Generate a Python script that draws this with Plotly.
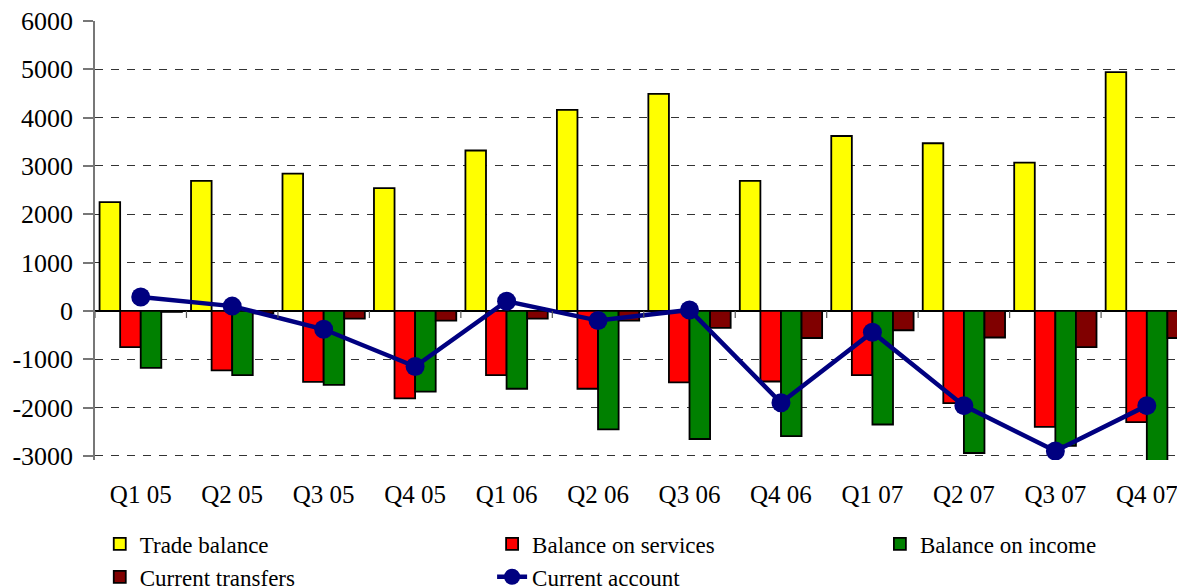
import plotly.graph_objects as go

categories = ["Q1 05", "Q2 05", "Q3 05", "Q4 05", "Q1 06", "Q2 06",
              "Q3 06", "Q4 06", "Q1 07", "Q2 07", "Q3 07", "Q4 07"]
trade_balance = [2250, 2690, 2840, 2540, 3320, 4160, 4490, 2690, 3620, 3470, 3070, 4940]
balance_services = [-750, -1230, -1470, -1810, -1330, -1610, -1480, -1460, -1330, -1910, -2400, -2300]
balance_income = [-1180, -1330, -1530, -1670, -1610, -2450, -2650, -2590, -2350, -2940, -2790, -3200]
current_transfers = [-20, -50, -160, -200, -160, -200, -350, -560, -400, -550, -750, -560]
current_account = [290, 100, -380, -1150, 200, -200, 20, -1900, -440, -1960, -2900, -1960]

y_ticks = [-3000, -2000, -1000, 0, 1000, 2000, 3000, 4000, 5000, 6000]
y_tick_labels = ["-3000", "-2000", "-1000", "0", "1000", "2000", "3000", "4000", "5000", "6000"]

FONT = "Liberation Serif"
xs = list(range(len(categories)))

fig = go.Figure()
bar_specs = [
    ("Trade balance", trade_balance, "#FFFF00", "legend"),
    ("Balance on services", balance_services, "#FF0000", "legend2"),
    ("Balance on income", balance_income, "#008000", "legend3"),
    ("Current transfers", current_transfers, "#800000", "legend"),
]
for name, vals, col, lg in bar_specs:
    fig.add_trace(go.Bar(x=xs, y=vals, name=name, legend=lg,
                         marker=dict(color=col, line=dict(color="black", width=1.8))))

fig.add_trace(go.Scatter(x=xs, y=current_account, name="Current account", mode="lines+markers",
                         legend="legend2",
                         line=dict(color="#000080", width=4.5),
                         marker=dict(color="#000080", size=19)))

# small tick marks on the category axis (at zero) between groups
for k in range(len(categories)):
    fig.add_shape(type="line", xref="x", yref="y", x0=k - 0.5, x1=k - 0.5,
                  ysizemode="pixel", yanchor=0, y0=0, y1=-7,
                  line=dict(color="#555555", width=1.2), layer="above")

legend_common = dict(orientation="v", xref="paper", yref="container",
                     yanchor="top", y=0.11, xanchor="left",
                     font=dict(family=FONT, size=23, color="black"),
                     traceorder="normal", bgcolor="rgba(0,0,0,0)", tracegroupgap=0)

fig.update_layout(
    width=1177, height=587,
    margin=dict(l=95, r=0, t=21, b=127),
    paper_bgcolor="white", plot_bgcolor="white",
    barmode="group", bargap=0.1, bargroupgap=0,
    font=dict(family=FONT, size=26, color="black"),
    showlegend=True,
    legend=dict(x=0.0044, **legend_common),
    legend2=dict(x=0.367, **legend_common),
    legend3=dict(x=0.7254, **legend_common),
)
fig.update_xaxes(
    range=[-0.5, 11.33], tickmode="array", tickvals=xs, ticktext=categories,
    showgrid=False, zeroline=False, showline=False, ticks="", ticklabelstandoff=17,
    ticklabeloverflow="allow", automargin=False,
    tickfont=dict(family=FONT, size=25),
)
fig.update_yaxes(
    range=[-3085, 6000], tickmode="array", tickvals=y_ticks, ticktext=y_tick_labels,
    showgrid=True, gridcolor="#333333", gridwidth=1, griddash="8px,8px",
    zeroline=True, zerolinecolor="black", zerolinewidth=2,
    showline=True, linecolor="#777777", linewidth=1.5, automargin=False,
    ticks="outside", ticklen=10, tickcolor="#777777", tickwidth=1.5, ticklabelstandoff=5,
    tickfont=dict(family=FONT, size=26),
)

# place the figure at the window's top-left corner (no default page margin)
fig.write_html("out.html", config={"displayModeBar": False},
               post_script="document.body.style.margin='0px';")
